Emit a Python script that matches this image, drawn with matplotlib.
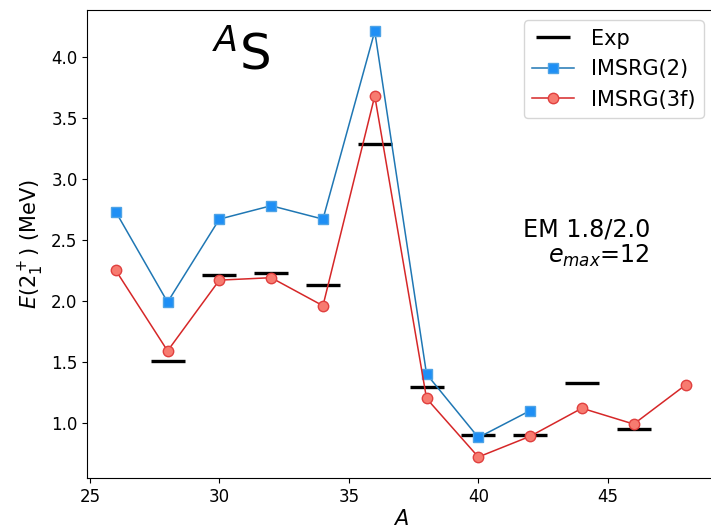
import matplotlib
matplotlib.use("Agg")
import matplotlib.pyplot as plt

# Mass numbers and 2+ excitation energies (MeV) for sulfur isotopes
A_exp = [28, 30, 32, 34, 36, 38, 40, 42, 44, 46]
E_exp = [1.51, 2.21, 2.23, 2.13, 3.29, 1.29, 0.90, 0.90, 1.33, 0.95]

A_imsrg2 = [26, 28, 30, 32, 34, 36, 38, 40, 42]
E_imsrg2 = [2.73, 1.99, 2.67, 2.78, 2.67, 4.21, 1.40, 0.88, 1.10]

A_imsrg3f = [26, 28, 30, 32, 34, 36, 38, 40, 42, 44, 46, 48]
E_imsrg3f = [2.25, 1.59, 2.17, 2.19, 1.96, 3.68, 1.20, 0.72, 0.89, 1.12, 0.99, 1.31]

W, H, DPI = 711, 531, 100
fig = plt.figure(figsize=(W / DPI, H / DPI), dpi=DPI)
ax = fig.add_axes([87.3 / W, (H - 478.3) / H, (714 - 87.3) / W, (478.3 - 10) / H])

ax.plot(A_exp, E_exp, linestyle="none", marker="_", markersize=24.5,
        markeredgewidth=2.4, color="black", label="Exp", zorder=2)
ax.plot(A_imsrg2, E_imsrg2, color="#1f77b4", lw=1.1, marker="s", markersize=7.5,
        markerfacecolor="#1e8ff5", markeredgecolor="#4da3e6", markeredgewidth=1.0,
        label="IMSRG(2)", zorder=3)
ax.plot(A_imsrg3f, E_imsrg3f, color="#d62728", lw=1.1, marker="o", markersize=7.5,
        markerfacecolor="#f77b70", markeredgecolor="#e0403f", markeredgewidth=1.0,
        label="IMSRG(3f)", zorder=4)

ax.tick_params(labelsize=12)
ax.set_xlabel("$A$", fontsize=15, labelpad=2)
ax.set_ylabel(r"$E(2_1^+)$ (MeV)", fontsize=15)

ax.legend(loc="upper right", fontsize=15, framealpha=0.8)

ax.text(0.245, 0.872, r"$^{A}$S", transform=ax.transAxes, fontsize=36,
        ha="center", va="baseline")
ax.text(0.898, (478.3 - 236.7) / 468.3, "EM 1.8/2.0", transform=ax.transAxes,
        fontsize=17.2, ha="right", va="baseline")
ax.text(0.898, (478.3 - 263) / 468.3, r"$e_{max}$=12", transform=ax.transAxes,
        fontsize=17.2, ha="right", va="baseline")

fig.savefig("out.png", dpi=DPI)
